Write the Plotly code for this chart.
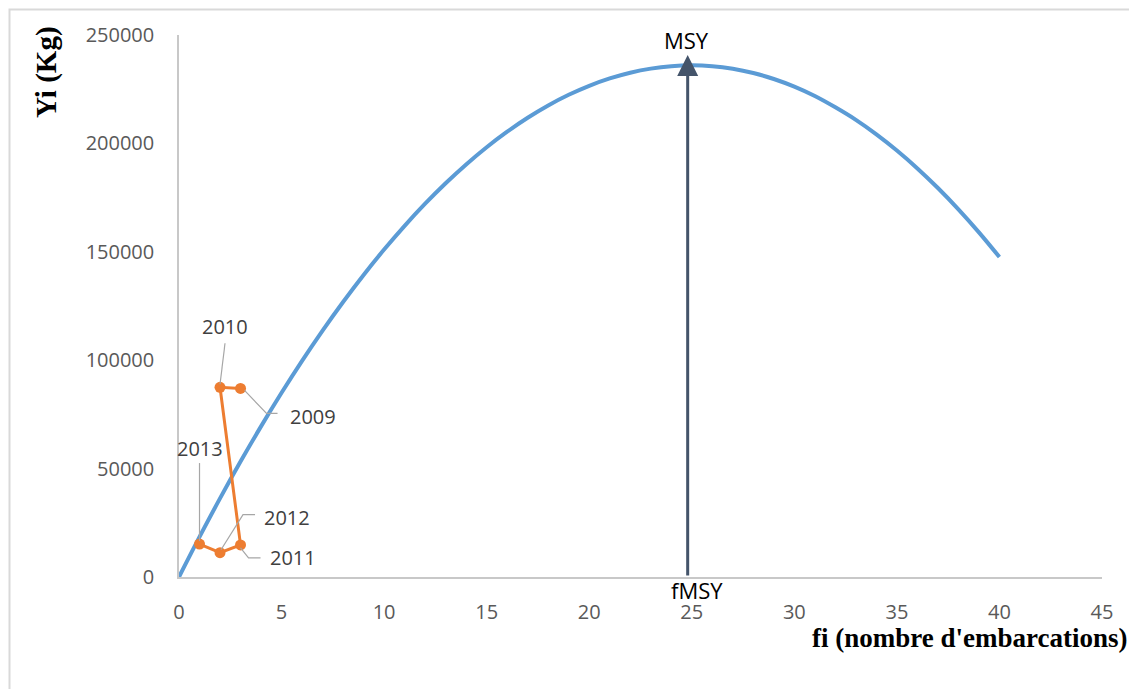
import plotly.graph_objects as go

# ---- data ----
effort = list(range(0, 41))
yield_model = [0, 18500, 36250, 53240, 69480, 84960, 99690, 113660, 126870, 139330,
               151040, 161990, 172190, 181630, 190310, 198240, 205410, 211830, 217500,
               222410, 226560, 229960, 232600, 234490, 235620, 236000, 235610, 234430,
               232460, 229710, 226180, 221850, 216630, 210850, 204170, 196700, 188450,
               179410, 169580, 158970, 147580]

years = ["2009", "2010", "2011", "2012", "2013"]
obs_f = [3, 2, 3, 2, 1]
obs_y = [87000, 87500, 14800, 11200, 15200]

f_msy = 24.8
msy = 236000

x_ticks = [0, 5, 10, 15, 20, 25, 30, 35, 40, 45]
y_ticks = [0, 50000, 100000, 150000, 200000, 250000]

# ---- layout geometry (page pixels; the page has an 8px body margin) ----
OFF = 8
W, H = 1137 - OFF, 689 - OFF
PL, PR, PT, PB = 179, 1102, 35, 577          # plot area edges in page px
ML, MR, MT = PL - OFF, (W + OFF) - PR, PT - OFF
MB = (H + OFF) - PB
PW = PR - PL
PH = PB - PT
XMAX, YMAX = 45, 250000
DX = XMAX / PW      # data units per px
DY = YMAX / PH


def paper_x(px):
    return (px - PL) / PW


def paper_y(py):
    return (PB - py) / PH


fig = go.Figure()

fig.add_trace(go.Scatter(
    x=effort, y=yield_model, mode="lines",
    line=dict(color="#5B9BD5", width=4, shape="spline"),
    hoverinfo="skip", showlegend=False))

fig.add_trace(go.Scatter(
    x=obs_f, y=obs_y, mode="lines+markers",
    line=dict(color="#ED7D31", width=3),
    marker=dict(color="#ED7D31", size=11),
    showlegend=False))

# label offsets (px, y down) and leader paths (px offsets from point)
label_off = {"2009": (72, 28), "2010": (5, -61), "2011": (52, 13),
             "2012": (67, -35), "2013": (0, -96)}
leaders = {"2009": [(4, 2), (26, 25), (37, 25)],
           "2010": [(0, -3), (5, -44)],
           "2011": [(0, 3), (8, 13), (20, 13)],
           "2012": [(1, -3), (23, -38), (35, -38)],
           "2013": [(0, -3), (0, -81)]}

annotations = []
shapes = []
for yr, fx, fy in zip(years, obs_f, obs_y):
    ox, oy = label_off[yr]
    annotations.append(dict(x=fx, y=fy, xref="x", yref="y", text=yr, showarrow=False,
                            xshift=ox, yshift=-oy, xanchor="center", yanchor="middle",
                            font=dict(family="Open Sans", size=20, color="#404040")))
    path = ""
    for i, (px, py) in enumerate(leaders[yr]):
        path += ("M" if i == 0 else "L") + f"{fx + px * DX},{fy - py * DY} "
    shapes.append(dict(type="path", xref="x", yref="y", path=path.strip(),
                       line=dict(color="#A6A6A6", width=1.2)))

# MSY arrow
annotations.append(dict(x=f_msy, y=msy * 1.02, xref="x", yref="y",
                        ax=f_msy, ay=0, axref="x", ayref="y",
                        showarrow=True, arrowhead=2, arrowsize=1.4, arrowwidth=3,
                        arrowcolor="#44546A", text=""))
annotations.append(dict(x=f_msy, y=paper_y(40), xref="x", yref="paper",
                        text="MSY", showarrow=False, xshift=-1,
                        xanchor="center", yanchor="middle",
                        font=dict(family="Open Sans", size=22, color="#000000")))
annotations.append(dict(x=f_msy, y=paper_y(590), xref="x", yref="paper",
                        text="fMSY", showarrow=False, xshift=9,
                        xanchor="center", yanchor="middle",
                        font=dict(family="Open Sans", size=22, color="#000000")))

# axis titles
annotations.append(dict(x=paper_x(47), y=paper_y(72), xref="paper", yref="paper",
                        text="<b>Yi (Kg)</b>", showarrow=False, textangle=-90,
                        xanchor="center", yanchor="middle",
                        font=dict(family="Liberation Serif", size=29, color="#000000")))
annotations.append(dict(x=paper_x(1129), y=paper_y(638), xref="paper", yref="paper",
                        text="<b>fi (nombre d'embarcations)</b>", showarrow=False,
                        xanchor="right", yanchor="middle",
                        font=dict(family="Liberation Serif", size=27, color="#000000")))

# outer chart border (left and top visible)
shapes.append(dict(type="rect", xref="paper", yref="paper",
                   x0=paper_x(OFF + 1.5), x1=paper_x(1160),
                   y0=paper_y(720), y1=paper_y(OFF + 1.5),
                   line=dict(color="#D9D9D9", width=2), layer="above"))

fig.update_layout(
    width=W, height=H,
    margin=dict(l=ML, r=MR, t=MT, b=MB, pad=0),
    paper_bgcolor="white", plot_bgcolor="white",
    annotations=annotations, shapes=shapes,
    xaxis=dict(range=[0, XMAX], tickvals=x_ticks, ticktext=[str(v) for v in x_ticks],
               showgrid=False, zeroline=False,
               showline=True, linecolor="#C8C8C8", linewidth=1.5,
               ticks="outside", ticklen=16, tickcolor="rgba(0,0,0,0)",
               tickfont=dict(family="Open Sans", size=20, color="#595959")),
    yaxis=dict(range=[0, YMAX], tickvals=y_ticks, ticktext=[str(v) for v in y_ticks],
               showgrid=False, zeroline=False,
               showline=True, linecolor="#C8C8C8", linewidth=1.5,
               ticks="outside", ticklen=19, tickcolor="rgba(0,0,0,0)",
               tickfont=dict(family="Open Sans", size=20, color="#595959")),
)

fig.write_html("out.html")
